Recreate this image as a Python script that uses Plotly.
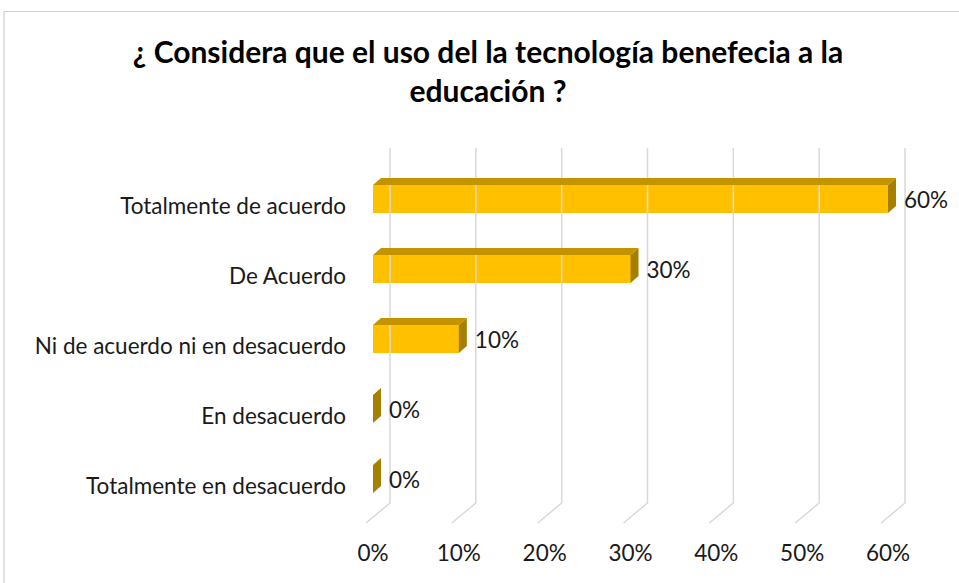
import plotly.graph_objects as go

# ---- data ----
categories = ["Totalmente de acuerdo", "De Acuerdo", "Ni de acuerdo ni en desacuerdo",
              "En desacuerdo", "Totalmente en desacuerdo"]
values = [0.60, 0.30, 0.10, 0.0, 0.0]
tick_vals = [0, 0.1, 0.2, 0.3, 0.4, 0.5, 0.6]
tick_text = ["0%", "10%", "20%", "30%", "40%", "50%", "60%"]
title_text = "¿ Considera que el uso del la tecnología benefecia a la<br>educación ?"

# ---- layout geometry (pixels) ----
W, H = 959, 583
L_PX, R_PX = 355, 915
T_PX, B_PX = 140, 530
X0_PX, PX_PER_UNIT = 373, 858.33     # front-face scale
Y0_PX, PX_PER_CAT = 199, 70

xmin = (L_PX - X0_PX) / PX_PER_UNIT
xmax = (R_PX - X0_PX) / PX_PER_UNIT
ytop = (T_PX - Y0_PX) / PX_PER_CAT
ybot = (B_PX - Y0_PX) / PX_PER_CAT

# 3D depth styling (converted to axis units)
BAR_DX = 8 / PX_PER_UNIT
BAR_DY = 7 / PX_PER_CAT
BAR_HALF = 0.2
WALL_DX = 17 / PX_PER_UNIT
FLOOR_DX = -7 / PX_PER_UNIT
WALL_TOP = (148 - Y0_PX) / PX_PER_CAT
WALL_BOT = (503 - Y0_PX) / PX_PER_CAT
FLOOR_Y = (523 - Y0_PX) / PX_PER_CAT
LABEL_GAP = 8 / PX_PER_UNIT

FRONT = "#FFC000"
TOP = "#C39300"
SIDE = "#A77F00"
GRID = "#D9D9D9"
TXT = "#1a1a1a"
FONT = "Lato, 'Open Sans', sans-serif"
FS = 22.5

ypos = list(range(len(categories)))

fig = go.Figure()

# gridlines: back wall + floor
gx, gy = [], []
for t in tick_vals:
    gx += [t + WALL_DX, t + WALL_DX, t + FLOOR_DX, None]
    gy += [WALL_TOP, WALL_BOT, FLOOR_Y, None]
fig.add_trace(go.Scatter(x=gx, y=gy, mode="lines", line=dict(color=GRID, width=1.5),
                         hoverinfo="skip", showlegend=False))

# front faces
fig.add_trace(go.Bar(x=values, y=ypos, orientation="h", width=2 * BAR_HALF,
                     marker=dict(color=FRONT, line=dict(width=0)), showlegend=False))

# top and side faces
for yi, v in zip(ypos, values):
    yt = yi - BAR_HALF
    yb = yi + BAR_HALF
    if v > 0:
        fig.add_trace(go.Scatter(
            x=[0, v, v + BAR_DX, BAR_DX, 0], y=[yt, yt, yt - BAR_DY, yt - BAR_DY, yt],
            mode="lines", fill="toself", fillcolor=TOP, line=dict(width=0, color=TOP),
            hoverinfo="skip", showlegend=False))
    fig.add_trace(go.Scatter(
        x=[v, v + BAR_DX, v + BAR_DX, v, v], y=[yt, yt - BAR_DY, yb - BAR_DY, yb, yt],
        mode="lines", fill="toself", fillcolor=SIDE, line=dict(width=0, color=SIDE),
        hoverinfo="skip", showlegend=False))

# data labels
fig.add_trace(go.Scatter(
    x=[v + BAR_DX + LABEL_GAP for v in values], y=[yi + 0.05 for yi in ypos],
    mode="text", text=[f"{v:.0%}" for v in values], textposition="middle right",
    textfont=dict(family=FONT, size=FS, color=TXT), hoverinfo="skip", showlegend=False,
    cliponaxis=False))

# border
px2paper_x = lambda p: (p - L_PX) / (R_PX - L_PX)
px2paper_y = lambda p: (B_PX - p) / (B_PX - T_PX)
fig.add_shape(type="rect", xref="paper", yref="paper",
              x0=px2paper_x(4), x1=px2paper_x(975), y0=px2paper_y(600), y1=px2paper_y(11.5),
              line=dict(color="#CFCFCF", width=1.2), fillcolor="rgba(0,0,0,0)", layer="below")

fig.update_layout(
    width=W, height=H,
    margin=dict(l=L_PX, r=W - R_PX, t=T_PX, b=H - B_PX, pad=0),
    paper_bgcolor="white", plot_bgcolor="white",
    title=dict(text=title_text, x=488 / W, xanchor="center", y=1 - 63 / H, yanchor="top",
               font=dict(family=FONT, size=30, color="#000000", weight="bold")),
    bargap=0,
    xaxis=dict(range=[xmin, xmax], tickvals=tick_vals, ticktext=tick_text,
               showgrid=False, zeroline=False, showline=False, ticks="",
               ticklabelstandoff=7, tickfont=dict(family=FONT, size=FS, color=TXT)),
    yaxis=dict(range=[ybot, ytop], tickvals=ypos, ticktext=categories,
               showgrid=False, zeroline=False, showline=False, ticks="",
               ticklabelstandoff=8, ticklabelshift=-7,
               tickfont=dict(family=FONT, size=FS, color=TXT)),
)

fig.write_html("out.html")
